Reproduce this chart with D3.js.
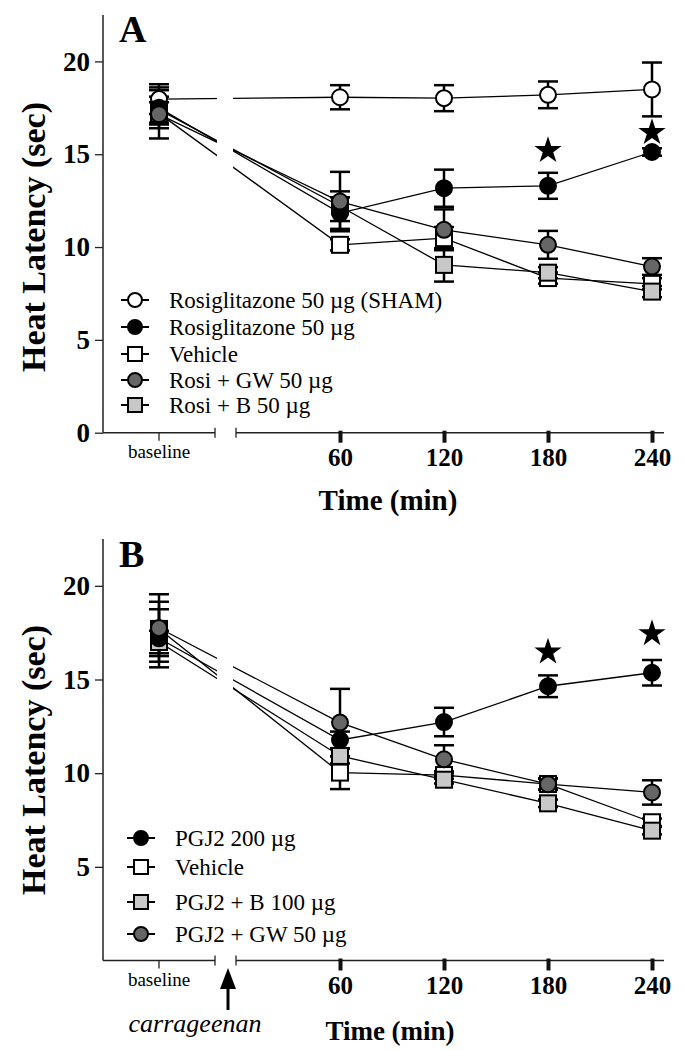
<!DOCTYPE html>
<html><head><meta charset="utf-8">
<script src="https://cdn.jsdelivr.net/npm/d3@7"></script>
<style>body{margin:0;background:#fff}svg{display:block}</style>
</head><body>
<svg id="chart" width="684" height="1050"></svg>
<script>
// ---------- data ----------
const timeLabels = ["baseline", 60, 120, 180, 240];
const yTicksA = [0, 5, 10, 15, 20];
const yTicksB = [5, 10, 15, 20];

// Panel A
const seriesNamesA = ["Rosiglitazone 50  \u00b5g (SHAM)", "Rosiglitazone 50  \u00b5g", "Vehicle", "Rosi + GW 50  \u00b5g", "Rosi + B 50 \u00b5g"];
const shamA   = [17.97, 18.07, 18.02, 18.20, 18.49];
const shamErrA= [0.8, 0.65, 0.7, 0.72, 1.45];
const rosiA   = [17.5, 11.83, 13.17, 13.30, 15.12];
const rosiErrA= [1.1, 0.85, 1.0, 0.7, 0.2];
const vehA    = [17.2, 10.12, 10.48, 8.33, 8.02];
const vehErrA = [0.6, 0.3, 0.6, 0.3, 0.3];
const gwA     = [17.15, 12.45, 10.93, 10.12, 8.95];
const gwErrA  = [1.3, 1.6, 1.1, 0.75, 0.45];
const bA      = [17.4, 12.2, 9.04, 8.62, 7.60];
const bErrA   = [0.7, 0.8, 0.9, 0.3, 0.3];
const starsA  = [[180, 15.2], [240, 16.17]];

// Panel B
const seriesNamesB = ["PGJ2 200 \u00b5g", "Vehicle", "PGJ2 + B 100 \u00b5g", "PGJ2 + GW 50 \u00b5g"];
const pgjB    = [17.2, 11.77, 12.73, 14.64, 15.36];
const pgjErrB = [1.55, 0.45, 0.76, 0.58, 0.68];
const vehB    = [17.7, 10.03, 9.9, 9.42, 7.38];
const vehErrB = [1.45, 0.88, 0.2, 0.3, 0.2];
const bB      = [17.0, 10.92, 9.65, 8.39, 6.93];
const bErrB   = [0.6, 0.4, 0.2, 0.2, 0.2];
const gwB     = [17.75, 12.70, 10.74, 9.41, 8.97];
const gwErrB  = [1.8, 1.8, 0.75, 0.3, 0.65];
const starsB  = [[180, 16.47], [240, 17.45]];

// ---------- drawing ----------
const svg = d3.select("#chart");
const FONT = "'Liberation Serif', 'Times New Roman', serif";

const baseScale = d3.scaleBand().domain(["baseline"]).range([103, 215]);
const tScale = d3.scaleLinear().domain([0, 240]).range([236, 652]);
const xPos = t => t === "baseline" ? baseScale(t) + baseScale.bandwidth() / 2 : tScale(t);

const styles = {
  openCircle:  {shape: "circle", fill: "#fff"},
  blackCircle: {shape: "circle", fill: "#000"},
  openSquare:  {shape: "square", fill: "#fff"},
  darkCircle:  {shape: "circle", fill: "#666"},
  lightSquare: {shape: "square", fill: "#c8c8c8"}
};

function drawMarker(g, x, y, st, s) {
  if (st.shape === "circle") {
    g.append("circle").attr("cx", x).attr("cy", y).attr("r", s)
      .attr("fill", st.fill).attr("stroke", "#000").attr("stroke-width", 2);
  } else {
    g.append("rect").attr("x", x - s).attr("y", y - s).attr("width", 2 * s).attr("height", 2 * s)
      .attr("fill", st.fill).attr("stroke", "#000").attr("stroke-width", 2);
  }
}

function panel(opt) {
  const y = d3.scaleLinear().domain([0, 22.5]).range([opt.y0, opt.yTop]);
  const g = svg.append("g");
  const clipId = "clip" + opt.id;
  const cp = svg.append("defs").append("clipPath").attr("id", clipId);
  cp.append("rect").attr("x", 0).attr("y", 0).attr("width", 217).attr("height", 1050);
  cp.append("rect").attr("x", 233).attr("y", 0).attr("width", 451).attr("height", 1050);

  // y axis
  const yAxis = d3.axisLeft(y).tickValues(opt.yTicks).tickSize(8).tickPadding(5).tickSizeOuter(0);
  const ya = g.append("g").attr("transform", "translate(103,0)").call(yAxis);
  ya.select(".domain").remove();
  ya.selectAll(".tick line").attr("stroke", "#222").attr("stroke-width", 1.3);
  ya.selectAll(".tick text").attr("font-family", FONT).attr("font-weight", "bold")
    .attr("font-size", 27).attr("fill", "#000");
  g.append("line").attr("x1", 103).attr("x2", 103).attr("y1", opt.yTop).attr("y2", opt.y0)
    .attr("stroke", "#222").attr("stroke-width", 1.5);

  // x axis segments
  g.append("line").attr("x1", 103).attr("x2", 215).attr("y1", opt.y0).attr("y2", opt.y0)
    .attr("stroke", "#222").attr("stroke-width", 1.5);
  g.append("line").attr("x1", 236).attr("x2", 664).attr("y1", opt.y0).attr("y2", opt.y0)
    .attr("stroke", "#222").attr("stroke-width", 1.5);
  [215, 236].forEach(bx => g.append("line").attr("x1", bx).attr("x2", bx)
    .attr("y1", opt.y0 - 5).attr("y2", opt.y0 + 5).attr("stroke", "#222").attr("stroke-width", 1.3));
  const xb = g.append("g").attr("transform", `translate(0,${opt.y0})`)
    .call(d3.axisBottom(baseScale).tickSize(8).tickSizeOuter(0).tickPadding(8));
  xb.select(".domain").remove();
  xb.selectAll(".tick line").attr("stroke", "#222").attr("stroke-width", 1.3);
  xb.selectAll(".tick text").attr("font-family", FONT).attr("font-size", 19).attr("fill", "#000")
    .attr("dy", "0.71em").attr("y", 12);
  const xt = g.append("g").attr("transform", `translate(0,${opt.y0})`)
    .call(d3.axisBottom(tScale).tickValues(timeLabels.slice(1)).tickSize(10).tickSizeOuter(0).tickPadding(8));
  xt.select(".domain").remove();
  xt.selectAll(".tick line").attr("stroke", "#111").attr("stroke-width", 4).attr("y1", -2);
  xt.selectAll(".tick text").attr("font-family", FONT).attr("font-weight", "bold")
    .attr("font-size", 25).attr("fill", "#000").attr("dy", "0.71em").attr("y", 16);

  // titles
  g.append("text").attr("transform", `translate(${opt.yLabelX},${opt.yLabelY}) rotate(-90)`)
    .attr("text-anchor", "middle").attr("font-family", FONT).attr("font-weight", "bold")
    .attr("font-size", 34).text("Heat Latency (sec)");
  g.append("text").attr("x", opt.xTitleX).attr("y", opt.xTitleY).attr("text-anchor", "middle")
    .attr("font-family", FONT).attr("font-weight", "bold").attr("font-size", opt.xTitleSize).text("Time (min)");
  g.append("text").attr("x", 119).attr("y", opt.letterY).attr("font-family", FONT)
    .attr("font-weight", "bold").attr("font-size", 38).text(opt.letter);

  // lines
  const lg = g.append("g").attr("clip-path", `url(#${clipId})`);
  const line = d3.line().x((d, i) => xPos(timeLabels[i])).y(d => y(d));
  opt.series.forEach(s => {
    lg.append("path").attr("d", line(s.values)).attr("fill", "none")
      .attr("stroke", "#000").attr("stroke-width", 1.3);
  });
  // error bars
  const eg = g.append("g");
  opt.series.forEach(s => {
    s.values.forEach((v, i) => {
      const x = xPos(timeLabels[i]);
      const e = s.err[i];
      eg.append("line").attr("x1", x).attr("x2", x).attr("y1", y(v - e)).attr("y2", y(v + e))
        .attr("stroke", "#000").attr("stroke-width", 2.5);
      [v - e, v + e].forEach(c => eg.append("line").attr("x1", x - 10).attr("x2", x + 10)
        .attr("y1", y(c)).attr("y2", y(c)).attr("stroke", "#000").attr("stroke-width", 2.5));
    });
  });
  // markers in drawing order
  const mg = g.append("g");
  opt.order.forEach(k => {
    const s = opt.series[k];
    s.values.forEach((v, i) => drawMarker(mg, xPos(timeLabels[i]), y(v), styles[s.style], 8));
  });
  // stars
  opt.stars.forEach(([t, v]) => {
    g.append("path").attr("d", d3.symbol(d3.symbolStar, 230)())
      .attr("transform", `translate(${tScale(t)},${y(v)})`).attr("fill", "#000");
  });
  // legend
  const leg = g.append("g");
  opt.series.forEach((s, i) => {
    const ly = opt.legendY[i];
    leg.append("line").attr("x1", opt.legX - 14).attr("x2", opt.legX + 14).attr("y1", ly).attr("y2", ly)
      .attr("stroke", "#000").attr("stroke-width", 2);
    drawMarker(leg, opt.legX, ly, styles[s.style], 7);
    leg.append("text").attr("x", opt.legX + 34).attr("y", ly).attr("dy", "0.35em")
      .attr("font-family", FONT).attr("font-size", 23).text(s.name);
  });
  return y;
}

panel({
  id: "A", letter: "A", letterY: 42, y0: 432.7, yTop: 15, yTicks: yTicksA,
  yLabelX: 45, yLabelY: 237, xTitleX: 388, xTitleY: 510, xTitleSize: 29,
  series: [
    {name: seriesNamesA[0], values: shamA, err: shamErrA, style: "openCircle"},
    {name: seriesNamesA[1], values: rosiA, err: rosiErrA, style: "blackCircle"},
    {name: seriesNamesA[2], values: vehA, err: vehErrA, style: "openSquare"},
    {name: seriesNamesA[3], values: gwA, err: gwErrA, style: "darkCircle"},
    {name: seriesNamesA[4], values: bA, err: bErrA, style: "lightSquare"}
  ],
  order: [0, 2, 4, 1, 3],
  stars: starsA, legX: 135, legendY: [300, 327, 354, 380, 405]
});

panel({
  id: "B", letter: "B", letterY: 567, y0: 960.5, yTop: 539, yTicks: yTicksB,
  yLabelX: 45, yLabelY: 760, xTitleX: 390, xTitleY: 1040, xTitleSize: 27,
  series: [
    {name: seriesNamesB[0], values: pgjB, err: pgjErrB, style: "blackCircle"},
    {name: seriesNamesB[1], values: vehB, err: vehErrB, style: "openSquare"},
    {name: seriesNamesB[2], values: bB, err: bErrB, style: "lightSquare"},
    {name: seriesNamesB[3], values: gwB, err: gwErrB, style: "darkCircle"}
  ],
  order: [1, 2, 0, 3],
  stars: starsB, legX: 141, legendY: [838, 867, 902, 934]
});

// carrageenan arrow
svg.append("line").attr("x1", 228).attr("x2", 228).attr("y1", 985).attr("y2", 1010)
  .attr("stroke", "#000").attr("stroke-width", 3);
svg.append("path").attr("d", "M228,968 L220,989 L236,989 Z").attr("fill", "#000");
svg.append("text").attr("x", 195).attr("y", 1032).attr("text-anchor", "middle")
  .attr("font-family", FONT).attr("font-style", "italic").attr("font-size", 26).text("carrageenan");
</script>
</body></html>
